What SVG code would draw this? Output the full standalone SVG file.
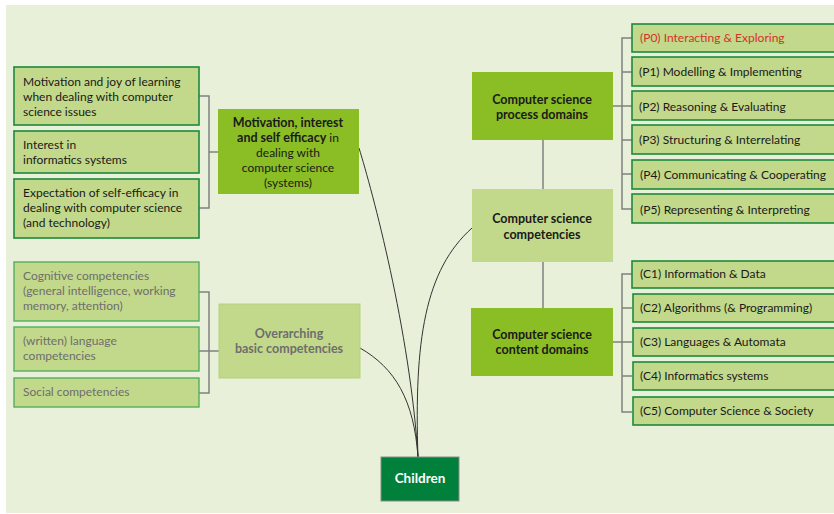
<svg xmlns="http://www.w3.org/2000/svg" width="834" height="514" viewBox="0 0 834 514">
<style>
text{font-family:Lato,"Liberation Sans",sans-serif;font-size:12px;fill:#1a1a1a}
.b{font-weight:bold;font-size:12.5px}
.g{fill:#6e6e6e}
.c{text-anchor:middle}
.leaf{fill:#c2d88a;stroke:#1f8a3c;stroke-width:1.6}
.leafl{fill:#c2d88a;stroke:#52b05e;stroke-width:1.4}
.main{fill:#8bbd24}
.soft{fill:#c2d88a}
.softb{fill:#c2d88a;stroke:#b3d37a;stroke-width:1}
.br{fill:none;stroke:#808080;stroke-width:1.5}
.cv{fill:none;stroke:#333;stroke-width:1}
</style>
<rect x="6" y="5" width="828" height="508" fill="#e8f0da"/>
<g id="connectors">
<path class="br" d="M199,96H209V208H199M209,152H218"/>
<path class="br" d="M199,292H209V393H199M199,351H219"/>
<path class="br" d="M632,38H622V209H632M622,72H632M613,106H632M622,140H632M622,174H632"/>
<path class="br" d="M632,274H622V412H632M622,308H632M613,342H632M622,376H632"/>
<path class="br" d="M543,140V189M543,262V308"/>
<path class="cv" d="M359,148C372,190 410,330 418,457"/>
<path class="cv" d="M360,348C395,368 414,400 418,457"/>
<path class="cv" d="M472,228C425,270 414,340 418,457"/>
</g>
<g id="m1"><rect class="leaf" x="14" y="67" width="185" height="58"/>
<text x="23" y="86">Motivation and joy of learning</text><text x="23" y="101">when dealing with computer</text><text x="23" y="116">science issues</text></g>
<g id="m2"><rect class="leaf" x="14" y="131" width="185" height="42"/>
<text x="23" y="149">Interest in</text><text x="23" y="164">informatics systems</text></g>
<g id="m3"><rect class="leaf" x="14" y="179" width="185" height="59"/>
<text x="23" y="197">Expectation of self-efficacy in</text><text x="23" y="212">dealing with computer science</text><text x="23" y="227">(and technology)</text></g>
<g id="motivation"><rect class="main" x="218" y="109" width="141" height="85"/>
<text class="c" x="288" y="127"><tspan class="b">Motivation, interest</tspan></text>
<text class="c" x="288" y="142"><tspan class="b">and self efficacy</tspan> in</text>
<text class="c" x="288" y="157">dealing with</text>
<text class="c" x="288" y="172">computer science</text>
<text class="c" x="288" y="187">(systems)</text></g>
<g id="o1"><rect class="leafl" x="14" y="262" width="185" height="59"/>
<text class="g" x="23" y="280">Cognitive competencies</text><text class="g" x="23" y="295">(general intelligence, working</text><text class="g" x="23" y="310">memory, attention)</text></g>
<g id="o2"><rect class="leafl" x="14" y="327" width="185" height="44"/>
<text class="g" x="23" y="345">(written) language</text><text class="g" x="23" y="360">competencies</text></g>
<g id="o3"><rect class="leafl" x="14" y="378" width="185" height="29"/>
<text class="g" x="23" y="396">Social competencies</text></g>
<g id="overarching"><rect class="softb" x="219" y="304" width="141" height="74"/>
<text class="c g b" x="289" y="338">Overarching</text><text class="c g b" x="289" y="353">basic competencies</text></g>
<g id="process"><rect class="main" x="472" y="72" width="141" height="68"/>
<text class="c b" x="542" y="104">Computer science</text><text class="c b" x="542" y="119">process domains</text></g>
<g id="competencies"><rect class="soft" x="472" y="189" width="141" height="73"/>
<text class="c b" x="542" y="223">Computer science</text><text class="c b" x="542" y="239">competencies</text></g>
<g id="content"><rect class="main" x="471" y="308" width="142" height="68"/>
<text class="c b" x="542" y="339">Computer science</text><text class="c b" x="542" y="354">content domains</text></g>
<g id="p0"><rect class="leaf" x="632" y="24" width="210" height="28"/><text x="640" y="42" style="fill:#d8302b">(P0) Interacting &amp; Exploring</text></g>
<g id="p1"><rect class="leaf" x="632" y="57" width="210" height="29"/><text x="639" y="76">(P1) Modelling &amp; Implementing</text></g>
<g id="p2"><rect class="leaf" x="632" y="91" width="210" height="29"/><text x="639" y="111">(P2) Reasoning &amp; Evaluating</text></g>
<g id="p3"><rect class="leaf" x="632" y="125" width="210" height="29"/><text x="639" y="144">(P3) Structuring &amp; Interrelating</text></g>
<g id="p4"><rect class="leaf" x="632" y="160" width="210" height="29"/><text x="640" y="179">(P4) Communicating &amp; Cooperating</text></g>
<g id="p5"><rect class="leaf" x="632" y="194" width="210" height="29"/><text x="640" y="214">(P5) Representing &amp; Interpreting</text></g>
<g id="c1"><rect class="leaf" x="632" y="261" width="210" height="27"/><text x="640" y="278">(C1) Information &amp; Data</text></g>
<g id="c2"><rect class="leaf" x="633" y="294" width="210" height="28"/><text x="640" y="312">(C2) Algorithms (&amp; Programming)</text></g>
<g id="c3"><rect class="leaf" x="633" y="328" width="210" height="28"/><text x="640" y="346">(C3) Languages &amp; Automata</text></g>
<g id="c4"><rect class="leaf" x="633" y="362" width="210" height="28"/><text x="640" y="380">(C4) Informatics systems</text></g>
<g id="c5"><rect class="leaf" x="633" y="397" width="210" height="28"/><text x="640" y="415">(C5) Computer Science &amp; Society</text></g>
<g id="children"><rect x="381" y="457" width="78" height="44" fill="#00803a" stroke="#8a8a8a" stroke-width="1"/>
<text class="c b" x="420" y="483" style="fill:#fff;font-size:13.5px">Children</text></g>
</svg>
